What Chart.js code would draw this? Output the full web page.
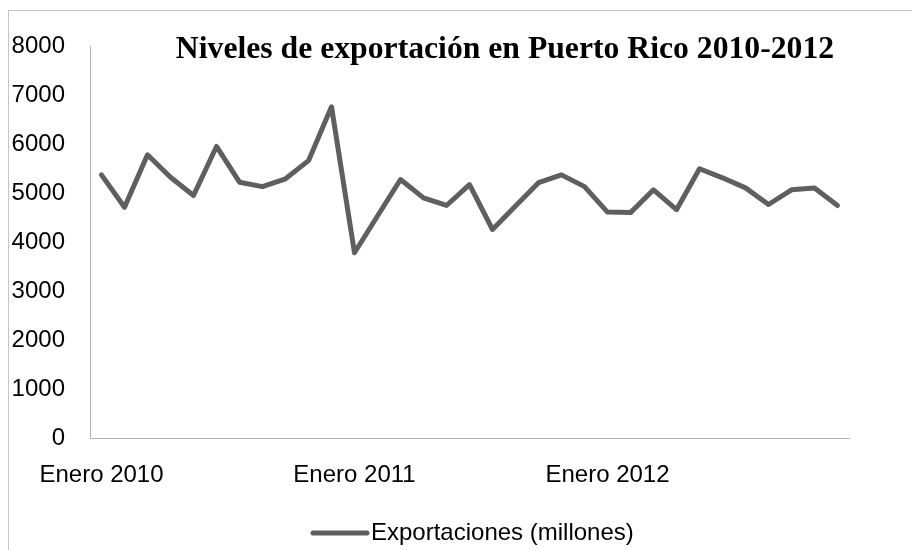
<!DOCTYPE html>
<html>
<head>
<meta charset="utf-8">
<script src="https://cdn.jsdelivr.net/npm/chart.js@4"></script>
<style>
  body { margin: 0; background: #fff; }
</style>
</head>
<body>
<canvas id="myChart" width="912" height="550"></canvas>
<script>
// datos
const titulo = 'Niveles de exportación en Puerto Rico 2010-2012';
const serieNombre = 'Exportaciones (millones)';
const etiquetasX = ['Enero 2010', 'Enero 2011', 'Enero 2012'];
const cadaCuanto = 11;
const exportaciones = [
    5370, 4710, 5780, 5320, 4950, 5950, 5220, 5130, 5290, 5660, 6760,
    3780, 4530, 5275, 4900, 4745, 5170, 4255, 4735, 5210, 5370, 5130,
    4610, 4600, 5065, 4660, 5495, 5310, 5105, 4765, 5065, 5100, 4745
];
const ticksY = { min: 0, max: 8000, step: 1000 };

// una categoria por punto, solo algunas llevan texto
let categorias = exportaciones.map((v, i) =>
    i % cadaCuanto == 0 ? (etiquetasX[i / cadaCuanto] || '') : '');

const colorLinea = '#5f5f5f';
const fuente = "'Liberation Sans', Arial, sans-serif";

const marco = {
    id: 'marco',
    beforeDraw(chart) {
        const c = chart.ctx;
        c.save();
        c.strokeStyle = '#c4c4c4';
        c.lineWidth = 1;
        c.strokeRect(8.5, 10.5, 1200, 1200);
        c.restore();
    },
    afterDraw(chart) {
        const c = chart.ctx;
        c.save();
        // titulo, ajustado al ancho que ocupa en el original
        c.font = "bold 29px 'Liberation Serif', serif";
        let w = c.measureText(titulo).width;
        let size = 29 * 658 / w;
        c.font = "bold " + size.toFixed(1) + "px 'Liberation Serif', serif";
        c.fillStyle = '#000';
        c.textAlign = 'center';
        c.textBaseline = 'alphabetic';
        c.fillText(titulo, 505, 58);
        // leyenda
        const ds = chart.data.datasets[0];
        c.strokeStyle = ds.borderColor;
        c.lineWidth = ds.borderWidth;
        c.lineCap = 'round';
        c.beginPath();
        c.moveTo(313, 533);
        c.lineTo(367, 533);
        c.stroke();
        c.font = '24px ' + fuente;
        c.textAlign = 'left';
        c.textBaseline = 'middle';
        c.fillText(ds.label, 371, 533);
        c.restore();
    }
};

const ctx = document.getElementById('myChart');
var chart = new Chart(ctx, {
    type: 'line',
    data: {
        labels: categorias,
        datasets: [{
            label: serieNombre,
            data: exportaciones,
            borderColor: colorLinea,
            backgroundColor: colorLinea,
            borderWidth: 5,
            borderJoinStyle: 'round',
            borderCapStyle: 'round',
            pointRadius: 0,
            tension: 0
        }]
    },
    options: {
        responsive: false,
        animation: false,
        layout: {
            padding: { left: 0, top: 46, right: 63, bottom: 52 }
        },
        plugins: {
            legend: { display: false },
            title: { display: false },
            tooltip: { enabled: false }
        },
        scales: {
            x: {
                offset: true,
                grid: { display: false, drawTicks: false },
                border: { display: true, color: '#b3b3b3', width: 1 },
                ticks: {
                    autoSkip: false,
                    maxRotation: 0,
                    minRotation: 0,
                    padding: 23,
                    color: '#000',
                    font: { family: fuente, size: 24 }
                },
                afterFit: function(scale) { scale.height = 60; }
            },
            y: {
                min: ticksY.min,
                max: ticksY.max,
                grid: { display: false, drawTicks: false },
                border: { display: true, color: '#b3b3b3', width: 1 },
                ticks: {
                    stepSize: ticksY.step,
                    padding: 25,
                    color: '#000',
                    font: { family: fuente, size: 24 },
                    callback: function(value) { return String(value); }
                },
                afterFit: function(scale) { scale.width = 90; }
            }
        }
    },
    plugins: [marco]
});
</script>
</body>
</html>
